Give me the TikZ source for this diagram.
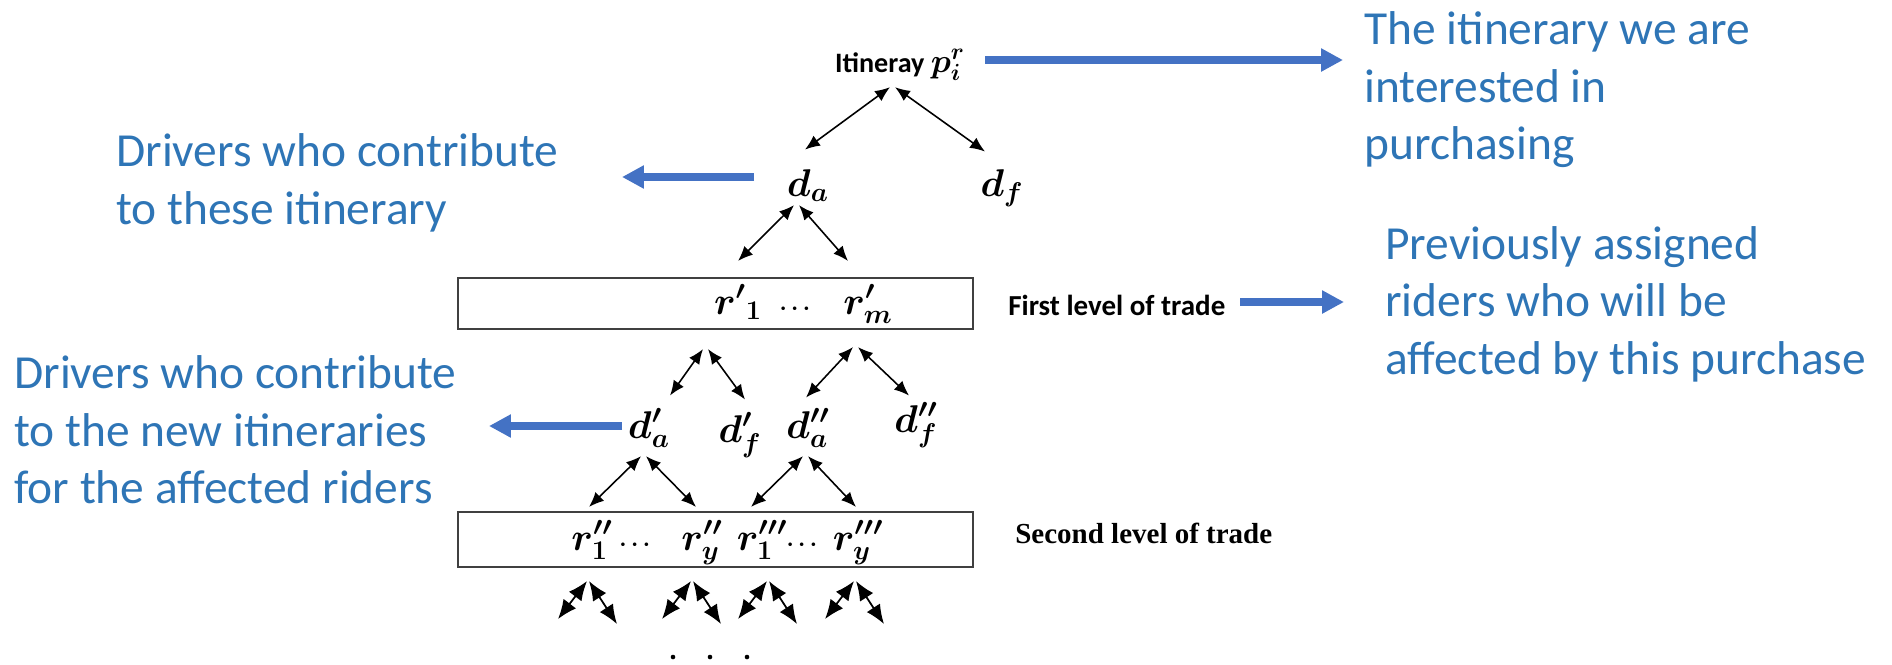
\RequirePackage{fix-cm}
\documentclass[tikz,border=0pt]{standalone}
\usepackage{amsmath}
\usepackage{bm}
\usepackage[no-math]{fontspec}
\newfontfamily\calibri{Carlito}
\newfontfamily\timesbold{Liberation Serif}
\usepackage{tikz}
\usetikzlibrary{arrows.meta,calc}
\usepackage{xcolor}
\definecolor{notetext}{HTML}{2E75B6}
\definecolor{notearrow}{HTML}{4472C4}
\tikzset{
  note/.style = {anchor=west, align=left, inner sep=0pt, text=notetext,
    font=\calibri\fontsize{27}{32.7}\selectfont},
  callout/.style = {draw=notearrow, line width=4pt, -{Triangle[length=12.5pt,width=12.5pt]}},
  link/.style = {line width=0.9pt, {Latex[length=8.5pt,width=7pt]}-{Latex[length=8.5pt,width=7pt]}},
  fork/.style = {line width=1pt, {Latex[length=11pt,width=9pt]}-{Latex[length=11pt,width=9pt]}},
  level/.style = {draw=black!75, line width=1.2pt, minimum width=10.3cm, inner sep=0pt},
  sym/.style = {anchor=base, inner sep=0pt, text height=16pt, text depth=5pt,
    font=\fontsize{22}{26}\selectfont},
  gap/.style = {sym, font=\fontsize{13}{16}\selectfont},
  tag/.style = {anchor=base west, inner sep=0pt}
}

\begin{document}
\begin{tikzpicture}[x=0.02cm, y=-0.02cm]
  \useasboundingbox (0,0) rectangle (1892,664);

  % itinerary and its drivers
  \node[anchor=base, inner sep=5pt, text depth=4pt, font=\calibri\bfseries\fontsize{16}{19}\selectfont] (itin) at (900,72)
    {Itineray {\fontsize{19}{22}\selectfont$\bm{p^r_i}$}};
  \node[sym] (da) at (808,196) {$\bm{d_a}$};
  \node[sym] (df) at (1002,196) {$\bm{d_f}$};

  % the two levels of trade
  \node[level, minimum height=1.02cm] (box1) at (715.5,303.5) {};
  \node[sym] (r1) at (738,314) {$\bm{{r'}_1}$};
  \node[gap] (rdots) at (797,314) {$\bm{\cdots}$};
  \node[sym] (rm) at (868,314) {$\bm{r'_m}$};
  \node[tag, font=\calibri\bfseries\fontsize{16.5}{19}\selectfont] (lvl1) at (1008,315) {First level of trade};

  \node[sym] (da1) at (649,438) {$\bm{d'_a}$};
  \node[sym] (df1) at (740,442) {$\bm{d'_f}$};
  \node[sym] (da2) at (808,438) {$\bm{d''_a}$};
  \node[sym] (df2) at (916,432) {$\bm{d''_f}$};

  \node[level, minimum height=1.1cm] (box2) at (715.5,539.5) {};
  \foreach \x/\st/\s [count=\i] in {592/sym/{$\bm{r''_1}$}, 637/gap/{$\bm{\cdots}$}, 702/sym/{$\bm{r''_y}$},
                                   762/sym/{$\bm{r'''_1}$}, 804/gap/{$\bm{\cdots}$}, 858/sym/{$\bm{r'''_y}$}}
    \node[\st] (s\i) at (\x,550) {\s};
  \node[tag, font=\timesbold\bfseries\fontsize{16.5}{19}\selectfont] (lvl2) at (1015,543) {Second level of trade};

  % notes
  \node[note] (tpurch) at (1364,90) {The itinerary we are\\interested in\\purchasing};
  \node[note] (tdrv1) at (116,183) {Drivers who contribute\\to these itinerary};
  \node[note] (tprev) at (1385,304) {Previously assigned\\riders who will be\\affected by this purchase};
  \node[note] (tdrv2) at (14,430) {Drivers who contribute\\to the new itineraries\\for the affected riders};

  \draw[callout] ($(itin.base)+(85,-12)$) -- ++(358,0);
  \draw[callout] ($(da.base)+(-54,-19)$) -- ++(-132,0);
  \draw[callout] ($(lvl1.base west)+(232,-13)$) -- ++(104,0);
  \draw[callout] ($(da1.base)+(-27,-12)$) -- ++(-133,0);

  % links down the tree
  \draw[link] ($(itin.south)+(-10,-1)$) -- ($(da.north)+(-3,-18)$);
  \draw[link] ($(itin.south)+(-5,-1)$) -- ($(df.north)+(-17,-16)$);

  \draw[link] ($(da.south)+(-14,0)$) -- ($(box1.north)+(22.5,-16)$);
  \draw[link] ($(da.south)+(-9,0)$) -- ($(box1.north)+(132.5,-16)$);

  \draw[link] ($(box1.south)+(-12.5,19)$) -- ($(da1.north)+(21,-14)$);
  \draw[link] ($(box1.south)+(-7.5,19)$) -- ($(df1.north)+(5,-14)$);
  \draw[link] ($(box1.south)+(137.5,17)$) -- ($(da2.north)+(-2,-12)$);
  \draw[link] ($(box1.south)+(142.5,17)$) -- ($(df2.north)+(-7,-8)$);

  \draw[link] ($(da1.south)+(-8,9)$) -- ($(box2.north)+(-126.5,-4)$);
  \draw[link] ($(da1.south)+(-3,9)$) -- ($(box2.north)+(-19.5,-4)$);
  \draw[link] ($(da2.south)+(-5,9)$) -- ($(box2.north)+(35.5,-4)$);
  \draw[link] ($(da2.south)+(0,9)$) -- ($(box2.north)+(140.5,-4)$);

  \foreach \x in {588,692,768,855} {
    \draw[fork] ($(\x-1,0 |- box2.south)+(0,13)$) -- ++(-29,38);
    \draw[fork] ($(\x+1,0 |- box2.south)+(0,13)$) -- ++(28,43);
  }
  \foreach \x in {673,710,747}
    \fill (\x,657) circle[radius=2.3];
\end{tikzpicture}
\end{document}
